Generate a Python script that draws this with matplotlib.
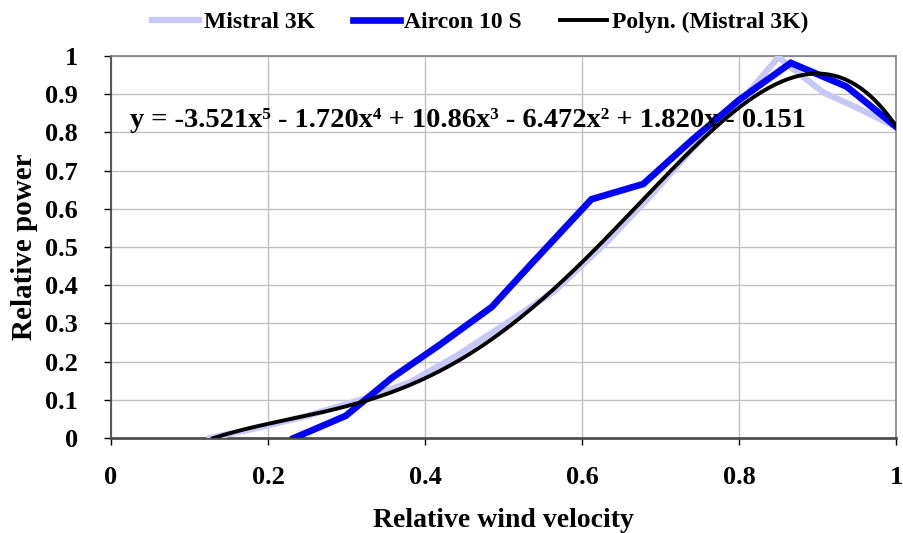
import numpy as np
import matplotlib
matplotlib.use('Agg')
import matplotlib.pyplot as plt

plt.rcParams['font.family'] = ['Liberation Serif', 'DejaVu Serif']
plt.rcParams['font.weight'] = 'bold'

# Mistral 3K measured points
mistral_x = [0.126, 0.19, 0.25, 0.315, 0.38, 0.44, 0.50, 0.565, 0.63, 0.69, 0.755, 0.80, 0.85, 0.907, 0.95, 1.0]
mistral_y = [0.0, 0.028, 0.058, 0.098, 0.145, 0.215, 0.295, 0.385, 0.51, 0.64, 0.79, 0.875, 0.997, 0.905, 0.865, 0.814]

# Aircon 10 S measured points
aircon_x = [0.233, 0.299, 0.358, 0.418, 0.485, 0.535, 0.612, 0.678, 0.74, 0.80, 0.866, 0.937, 1.0]
aircon_y = [0.0, 0.058, 0.158, 0.243, 0.343, 0.455, 0.625, 0.665, 0.78, 0.885, 0.982, 0.92, 0.815]

# trendline coefficients (highest power first), as printed on the chart
poly_coef = [-3.521, -1.720, 10.86, -6.472, 1.820, -0.151]
poly_range = [0.13, 1.0]

fig = plt.figure(figsize=(9.04, 5.33), dpi=100)
ax = fig.add_axes([0.1228, 0.1782, 0.8684, 0.7167])

ax.plot(mistral_x, mistral_y, color='#c8c8f8', lw=4.5, label='Mistral 3K', solid_joinstyle='miter', zorder=3)
ax.plot(aircon_x, aircon_y, color='#0000ff', lw=4.8, label='Aircon 10 S', solid_joinstyle='miter', zorder=4)
xx = np.linspace(poly_range[0], poly_range[1], 200)
ax.plot(xx, np.polyval(poly_coef, xx), color='black', lw=2.8, label='Polyn. (Mistral 3K)', zorder=5)

ax.set_xlim(0, 1)
ax.set_ylim(0, 1)
ax.set_xticks(np.arange(0, 1.01, 0.2))
ax.set_yticks(np.arange(0, 1.01, 0.1))
ax.set_xticklabels(['0', '0.2', '0.4', '0.6', '0.8', '1'])
ax.set_yticklabels(['0', '0.1', '0.2', '0.3', '0.4', '0.5', '0.6', '0.7', '0.8', '0.9', '1'])
ax.tick_params(axis='y', direction='out', length=5, width=1, pad=19, labelsize=19)
ax.tick_params(axis='x', direction='out', length=5, width=1, pad=15, labelsize=19)
ax.grid(True, color='#c0c0c0', lw=1)
ax.set_axisbelow(True)

for s in ['top', 'right']:
    ax.spines[s].set_color('#808080')
    ax.spines[s].set_linewidth(1.2)
ax.spines['left'].set_color('#404040')
ax.spines['left'].set_linewidth(1.2)
ax.spines['bottom'].set_color('#505050')
ax.spines['bottom'].set_linewidth(2)

ax.set_xlabel('Relative wind velocity', fontsize=20, fontweight='bold', labelpad=14)
ax.set_ylabel('Relative power', fontsize=21, fontweight='bold', labelpad=5)

ax.text(0.024, 0.83,
        'y = -3.521x\u2075 - 1.720x\u2074 + 10.86x\u00b3 - 6.472x\u00b2 + 1.820x - 0.151',
        transform=ax.transAxes, fontsize=20.5, fontweight='bold', va='center', ha='left', zorder=6)

fig.legend(loc='upper center', bbox_to_anchor=(0.531, 1.018), ncol=3, frameon=False,
           fontsize=17, handlelength=2.0, columnspacing=1.6, handletextpad=0.2)

plt.savefig('out.png', dpi=100)
